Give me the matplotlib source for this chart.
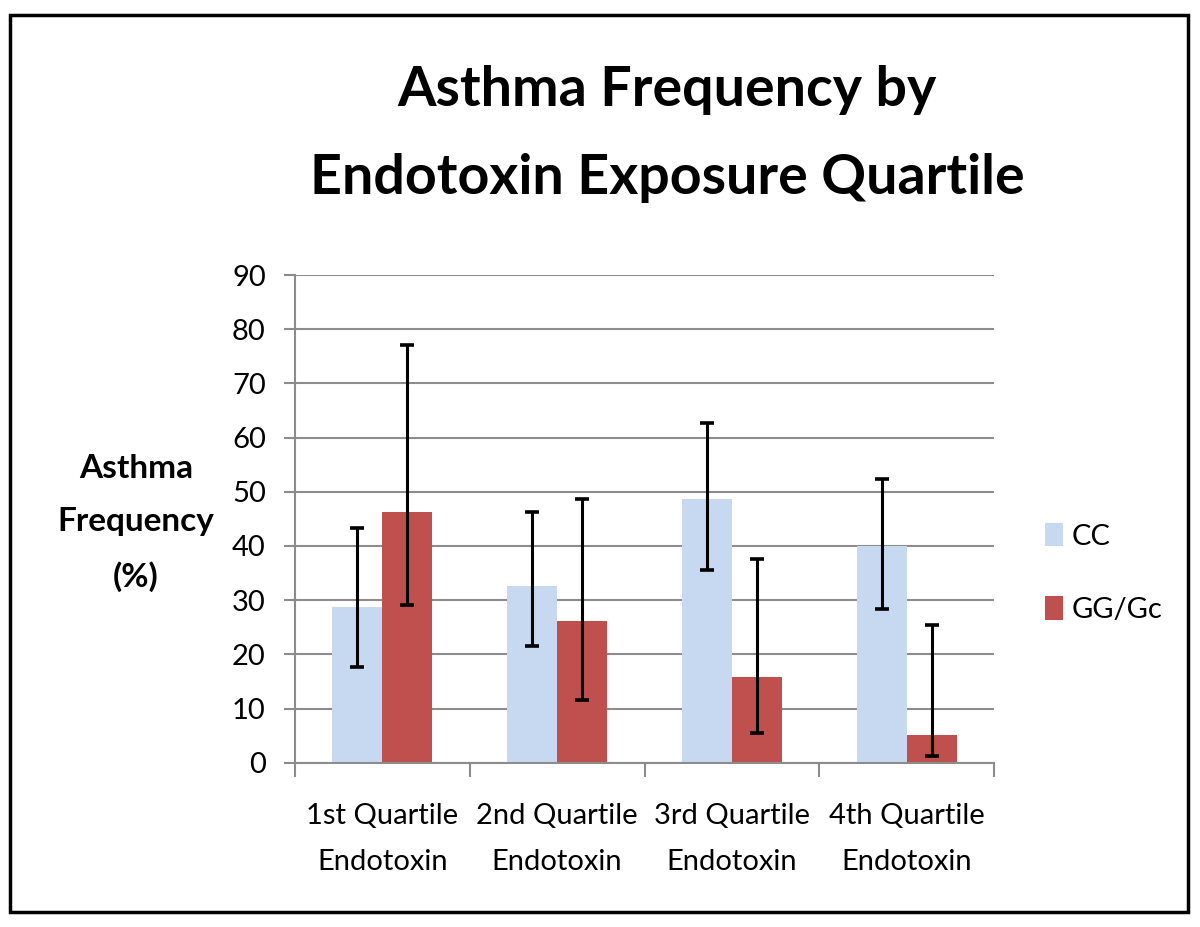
import numpy as np
import matplotlib
matplotlib.use('Agg')
import matplotlib.pyplot as plt
from matplotlib.patches import Rectangle

# data
quartiles = ['1st Quartile\nEndotoxin', '2nd Quartile\nEndotoxin',
             '3rd Quartile\nEndotoxin', '4th Quartile\nEndotoxin']
series = ['CC', 'GG/Gc']
cc_values = [28.7, 32.6, 48.7, 40.0]
cc_low = [17.6, 21.5, 35.5, 28.3]
cc_high = [43.4, 46.2, 62.6, 52.4]
gg_values = [46.2, 26.1, 15.9, 5.1]
gg_low = [29.1, 11.5, 5.4, 1.2]
gg_high = [77.0, 48.7, 37.6, 25.5]
yticks = np.arange(0, 91, 10)

colors = ['#c6d9f1', '#c0504d']
plt.rcParams['font.family'] = ['Lato', 'DejaVu Sans']

fig = plt.figure(figsize=(12, 9.27), dpi=100)
fig.patch.set_facecolor('white')

# outer frame
fig.add_artist(Rectangle((10 / 1200, 1 - 912 / 927), 1178 / 1200, 897 / 927,
                         transform=fig.transFigure, fill=False,
                         edgecolor='black', linewidth=2.5))

ax = fig.add_axes([295 / 1200, 1 - 762.7 / 927, 699 / 1200, 487.7 / 927])

x = np.arange(len(quartiles))
width = 0.286
groups = [(cc_values, cc_low, cc_high), (gg_values, gg_low, gg_high)]
for i, (vals, lo, hi) in enumerate(groups):
    pos = x + (i - 0.5) * width
    vals = np.array(vals)
    err = [vals - np.array(lo), np.array(hi) - vals]
    ax.bar(pos, vals, width, color=colors[i], label=series[i], zorder=2)
    ax.errorbar(pos, vals, yerr=err, fmt='none', ecolor='black',
                elinewidth=2.2, capsize=5, capthick=2.6, zorder=3)

ax.set_xlim(-0.5, len(quartiles) - 0.5)
ax.set_ylim(0, 90)
ax.set_yticks(yticks)
ax.yaxis.grid(True, color='#8c8c8c', linewidth=1.5, zorder=0)
ax.set_axisbelow(True)

for s in ['top', 'right']:
    ax.spines[s].set_visible(False)
for s in ['left', 'bottom']:
    ax.spines[s].set_color('#8c8c8c')
    ax.spines[s].set_linewidth(1.5)

# category labels between boundary ticks
ax.set_xticks(np.arange(len(quartiles) + 1) - 0.5)
ax.set_xticklabels([])
ax.set_xticks(x, minor=True)
ax.set_xticklabels(quartiles, minor=True, fontsize=21, linespacing=1.95)
ax.tick_params(axis='x', which='major', length=10, width=1.5, color='#8c8c8c')
ax.tick_params(axis='x', which='minor', length=0, pad=29)
ax.tick_params(axis='y', length=8, width=1.5, color='#8c8c8c',
               labelsize=21, pad=13)

fig.text(136 / 1200, 1 - 523 / 927, 'Asthma\nFrequency\n(%)', ha='center',
         va='center', fontsize=24, fontweight='bold', linespacing=2.0)

fig.text(667 / 1200, 1 - 134 / 927,
         'Asthma Frequency by\nEndotoxin Exposure Quartile', ha='center',
         va='center', fontsize=40, fontweight='bold', linespacing=1.92)

fig.legend(loc='center left', bbox_to_anchor=(1045 / 1200, 1 - 573 / 927),
           frameon=False, fontsize=21, handlelength=0.6, handleheight=0.85,
           handletextpad=0.3, labelspacing=1.6, borderpad=0,
           borderaxespad=0)

fig.savefig('out.png', dpi=100, facecolor='white')
